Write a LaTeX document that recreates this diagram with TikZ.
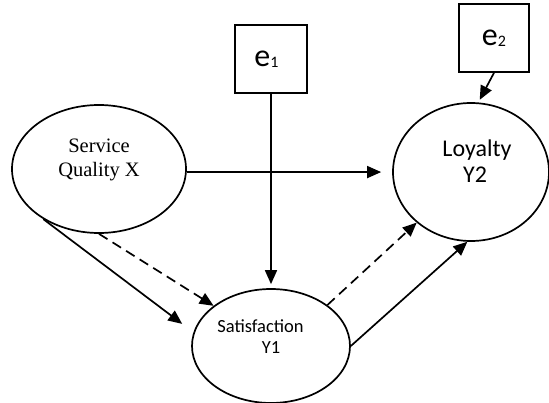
\documentclass[tikz,border=0pt]{standalone}
\usepackage{fontspec}
\setmainfont{Carlito}
\newfontfamily\serifrm{Liberation Serif}
\usetikzlibrary{shapes.geometric,arrows.meta}

\tikzset{
  latent/.style={draw, ellipse, line width=1.7pt, inner sep=0pt},
  errbox/.style={draw, rectangle, line width=1.6pt, minimum width=72pt, minimum height=68pt, inner sep=0pt,
    font=\fontsize{32}{32}\selectfont},
  link/.style={draw, line width=1.7pt, -{Triangle[length=14pt,width=12pt]}},
  dlink/.style={link, dash pattern=on 10pt off 6pt},
}
\newcommand{\errsub}[1]{\raisebox{-1pt}{\fontsize{16}{16}\selectfont #1}}

\begin{document}
\begin{tikzpicture}[x=1pt, y=-1pt]
\useasboundingbox (0,0) rectangle (549,403);
% variables
\node[latent, minimum width=174pt, minimum height=128pt] (sq) at (99,169) {};
\node[latent, minimum width=158pt, minimum height=114pt] (sat) at (271,346) {};
\node[latent, minimum width=156pt, minimum height=138pt] (loy) at (471,172) {};
\node[align=center, font=\serifrm\fontsize{20.5}{24}\selectfont] (sqtext) at (99,160) {Service\\Quality X};
\node[align=center, font=\fontsize{18.5}{21}\selectfont] (sattext) at (271,337) {Satisfaction\hspace*{21pt}\\Y1};
\node[align=center, font=\fontsize{24}{26}\selectfont] (loytext) at (471,161.5) {\hspace*{12pt}Loyalty\\\hspace*{8pt}Y2};
% errors
\node[errbox] (e1) at (271,59) {e\errsub{1}\hspace*{9pt}};
\node[errbox, minimum width=70pt] (e2) at (494,38) {e\errsub{2}};
% paths
\path[link, shorten >=11pt] (sq.-2) -- (sq.-2 -| loy.west);
\path[link, shorten >=14pt] (sq.222) -- (sat.170);
\path[dlink] (sq.south) -- (sat.145);
\path[link, shorten >=4pt] (e1.south) -- (sat.north);
\path[link, shorten >=3pt] (e2.south) -- (loy.84);
\path[dlink] (sat.36) -- (loy.223);
\path[link] (sat.east) -- (loy.267);
\end{tikzpicture}
\end{document}
